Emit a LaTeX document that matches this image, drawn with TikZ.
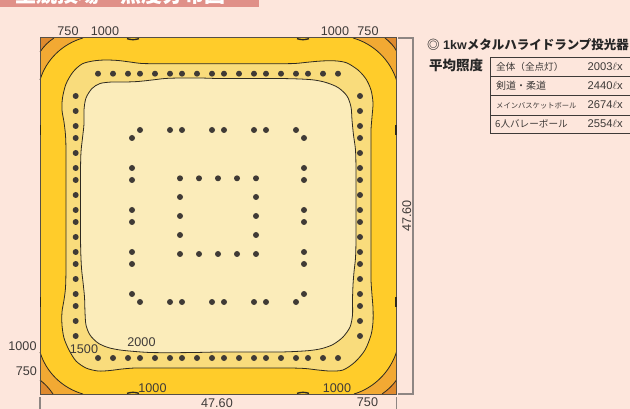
\documentclass[tikz,border=0pt]{standalone}
\usepackage{fontspec}
\setmainfont{Liberation Sans}
\newfontfamily\cjk{Noto Sans CJK JP}
\definecolor{bgc}{HTML}{FDE6DC}
\definecolor{barc}{HTML}{E09088}
\definecolor{cornerA}{HTML}{DF8A2E}
\definecolor{cornerB}{HTML}{F2A933}
\definecolor{bandA}{HTML}{FFCC2A}
\definecolor{bandB}{HTML}{F9DC7C}
\definecolor{bandC}{HTML}{FBECBA}
\definecolor{inkc}{HTML}{3E3A38}
\definecolor{contourc}{HTML}{2E2A20}
\definecolor{dimc}{HTML}{8E8683}
\definecolor{dotc}{HTML}{403B36}
\tikzset{
  x=1pt,y=-1pt,
  lbl/.style={font=\fontsize{12.6}{13}\selectfont,text=inkc,inner sep=0pt},
  contour/.style={draw=contourc,line width=0.8pt},
  dimline/.style={draw=dimc,line width=1.2pt},
  lamp/.style={fill=dotc},
  rowline/.style={draw=inkc,line width=0.9pt},
  rowtext/.style={anchor=base west,inner sep=0pt,text=inkc},
  blob/.style={draw=contourc,line width=1.4pt},
}
\begin{document}
\begin{tikzpicture}
\useasboundingbox (0,0) rectangle (630,409);
\fill[bgc] (0,0) rectangle (630,409);
% title bar
\fill[barc] (0,-2) rectangle (259,7);
\node[anchor=base west,inner sep=0pt,text=white,font=\cjk\bfseries\fontsize{21}{21}\selectfont] (title) at (15,2.5) {主競技場・照度分布図};
% field
\fill[bandA] (40,38) rectangle (396.5,394);
% corners, middle band
\fill[cornerB] (40,38) -- (83,38) .. controls (62,44) and (46,60) .. (40,80) -- cycle;
\fill[cornerB] (396.5,38) -- (353,38) .. controls (374,44) and (390,60) .. (396.5,80) -- cycle;
\fill[cornerB] (40,394) -- (83,394) .. controls (62,388) and (46,372) .. (40,352) -- cycle;
\fill[cornerB] (396.5,394) -- (354,394) .. controls (374,388) and (390,372) .. (396.5,352) -- cycle;
\fill[cornerA] (40,38) -- (54,38) .. controls (48,42) and (44,46) .. (40,52) -- cycle;
\fill[cornerA] (396.5,38) -- (385,38) .. controls (390,42) and (394,46) .. (396.5,51) -- cycle;
\fill[cornerA] (40,394) -- (53,394) .. controls (49,388) and (45,384) .. (40,380) -- cycle;
\fill[cornerA] (396.5,394) -- (382,394) .. controls (388,390) and (393,385) .. (396.5,380) -- cycle;
\draw[contour] (83,38) .. controls (62,44) and (46,60) .. (40,80);
\draw[contour] (353,38) .. controls (374,44) and (390,60) .. (396.5,80);
\draw[contour] (83,394) .. controls (62,388) and (46,372) .. (40,352);
\draw[contour] (354,394) .. controls (374,388) and (390,372) .. (396.5,352);
\draw[contour] (54,38) .. controls (48,42) and (44,46) .. (40,52);
\draw[contour] (385,38) .. controls (390,42) and (394,46) .. (396.5,51);
\draw[contour] (53,394) .. controls (49,388) and (45,384) .. (40,380);
\draw[contour] (382,394) .. controls (388,390) and (393,385) .. (396.5,380);
% 1500 contour
\draw[contour,fill=bandB] plot[smooth cycle,tension=0.5] coordinates {
 (82,64) (93,61) (105,60) (118,60.5) (130,62) (142,63.5) (160,63.7) (180,63.7) (200,63.7) (218,63.7)
 (240,63.7) (260,63.7) (280,63.7) (295,63.5) (305,62.5) (315,61.5) (326,60.8) (337,61) (347,63) (358,70)
 (366,79) (371,90) (373,103) (372,117) (371,130) (371,150) (371,170) (371,190) (371,215) (371,240)
 (371,260) (371,280) (372,295) (373,308) (373,322) (371,335) (365,350) (355,362) (343,370) (330,371)
 (318,370) (305,368.5) (290,368) (270,368) (250,368) (230,368) (210,368) (190,368) (170,368) (150,368)
 (135,368) (122,369) (110,370.5) (98,371) (86,368) (76,361) (69,350) (64,338) (62,325) (62,312)
 (64,300) (65.5,288) (66,270) (66,250) (66,230) (66,210) (66,190) (66,170) (66,150) (65.5,135)
 (64,122) (62,110) (62.5,98) (66,84) (73,72)};
% 2000 contour
\draw[contour,fill=bandC] plot[smooth cycle,tension=0.5] coordinates {
 (100,83.5) (112,82) (125,82) (138,81.5) (152,80) (165,78.5) (180,78) (200,78) (218,78.5) (240,78.5)
 (260,78.5) (280,78.5) (300,79) (314,80) (326,82.5) (338,87.5) (347,96) (351,107) (352,120) (353.5,135)
 (355.5,150) (356,170) (356,190) (356,215) (356,240) (355.5,258) (354,272) (353,285) (352.5,300) (352.5,315)
 (350,327) (343,337) (333,344.5) (322,348.5) (310,350.5) (295,351.5) (280,352) (260,352) (240,352) (218,352)
 (195,352.5) (170,352.7) (150,352.5) (135,351.5) (120,350) (108,347.5) (98,343) (90,335) (86,325) (85,312)
 (84.5,297) (83,282) (81.5,268) (80.7,250) (80.5,230) (80.5,210) (80.5,190) (80.5,170) (81,152) (82.5,138)
 (84,124) (84,110) (86,98) (92,88.5)};
% frame
\draw[draw=contourc!80!bgc,line width=1pt] (40,38) rectangle (396.5,394);
% short contour pieces on the frame
\draw[blob] (127,38.6) .. controls (131,40) and (135,40) .. (139,38.6);
\draw[blob] (297,38.6) .. controls (301,40) and (305,40) .. (309,38.6);
\draw[blob] (127,393.4) .. controls (131,392) and (135,392) .. (139,393.4);
\draw[blob] (297,393.4) .. controls (301,392) and (305,392) .. (309,393.4);
\draw[blob] (40.6,125) -- (40.6,135);
\draw[blob] (40.6,297) -- (40.6,307);
\draw[blob] (395.9,125) -- (395.9,135);
\draw[blob] (395.9,297) -- (395.9,307);
% lamps: outer ring
\foreach \p in {98,113,128,140,155,170,182,197,212,224,239,254,266,281,296,308,323,338}{
  \fill[lamp] (\p,73.7) circle (3);
  \fill[lamp] (\p,358) circle (3);
}
\foreach \p in {96,111,126,138,153,168,180,195,210,222,237,252,264,279,294,306,321,336}{
  \fill[lamp] (75.7,\p) circle (3);
  \fill[lamp] (360,\p) circle (3);
}
% lamps: middle ring
\foreach \p in {140,170,182,212,224,254,266,296}{
  \fill[lamp] (\p,130) circle (3);
  \fill[lamp] (\p,302) circle (3);
}
\foreach \p in {138,168,180,210,222,252,264,294}{
  \fill[lamp] (132,\p) circle (3);
  \fill[lamp] (304,\p) circle (3);
}
% lamps: inner ring
\foreach \p in {180,199,218,237,256}{
  \fill[lamp] (\p,178.3) circle (3);
  \fill[lamp] (\p,254) circle (3);
}
\foreach \p in {197,216,235}{
  \fill[lamp] (180,\p) circle (3);
  \fill[lamp] (256,\p) circle (3);
}
% dimensions
\draw[dimline] (398,38) -- (413,38) -- (413,394) -- (398,394);
\draw[dimline] (40,397) -- (40,409);
\draw[dimline] (396.5,397) -- (396.5,409);
% labels
\node[lbl] (t750a) at (68,31) {750};
\node[lbl] (t1000a) at (105,31) {1000};
\node[lbl] (t1000b) at (335,31) {1000};
\node[lbl] (t750b) at (368,31) {750};
\node[lbl] (l1000) at (22.5,345.7) {1000};
\node[lbl] (l750) at (26.5,370.7) {750};
\node[lbl] (c1500) at (84,349) {1500};
\node[lbl] (c2000) at (141.5,341.7) {2000};
\node[lbl] (b1000a) at (152.5,387.7) {1000};
\node[lbl] (b1000b) at (337,387.7) {1000};
\node[lbl] (b750) at (367.5,401.7) {750};
\node[lbl] (bdim) at (217,403) {47.60};
\node[lbl,rotate=90] (rdim) at (406.7,216) {47.60};
% heading
\node[anchor=base west,inner sep=0pt,text=black!85,font=\bfseries\fontsize{12.5}{13}\selectfont] (head) at (427,49.5) {{\cjk ◎} 1kw{\cjk メタルハライドランプ投光器}};
\node[anchor=base west,inner sep=0pt,text=black!85,font=\cjk\bfseries\fontsize{13.5}{14}\selectfont] (avg) at (429,71) {平均照度};
% table
\draw[rowline] (640,57.7) -- (490.7,57.7) -- (490.7,133.4) -- (640,133.4);
\draw[rowline] (490.7,76.7) -- (640,76.7);
\draw[rowline] (490.7,95.7) -- (640,95.7);
\draw[rowline] (490.7,115) -- (640,115);
\node[rowtext,font=\cjk\fontsize{9.6}{10}\selectfont] (r1) at (496,71) {全体（全点灯）};
\node[rowtext,font=\cjk\fontsize{10}{10}\selectfont] (r2) at (496,90) {剣道・柔道};
\node[rowtext,font=\cjk\fontsize{7.3}{8}\selectfont] (r3) at (496,108.5) {メインバスケットボール};
\node[rowtext,font=\cjk\fontsize{9.6}{10}\selectfont] (r4) at (495,128) {6人バレーボール};
\node[rowtext,font=\fontsize{11.2}{11}\selectfont] (v1) at (587.5,71) {2003$\ell$x};
\node[rowtext,font=\fontsize{11.2}{11}\selectfont] (v2) at (587.5,90) {2440$\ell$x};
\node[rowtext,font=\fontsize{11.2}{11}\selectfont] (v3) at (587.5,109) {2674$\ell$x};
\node[rowtext,font=\fontsize{11.2}{11}\selectfont] (v4) at (587.5,128) {2554$\ell$x};
\end{tikzpicture}
\end{document}
